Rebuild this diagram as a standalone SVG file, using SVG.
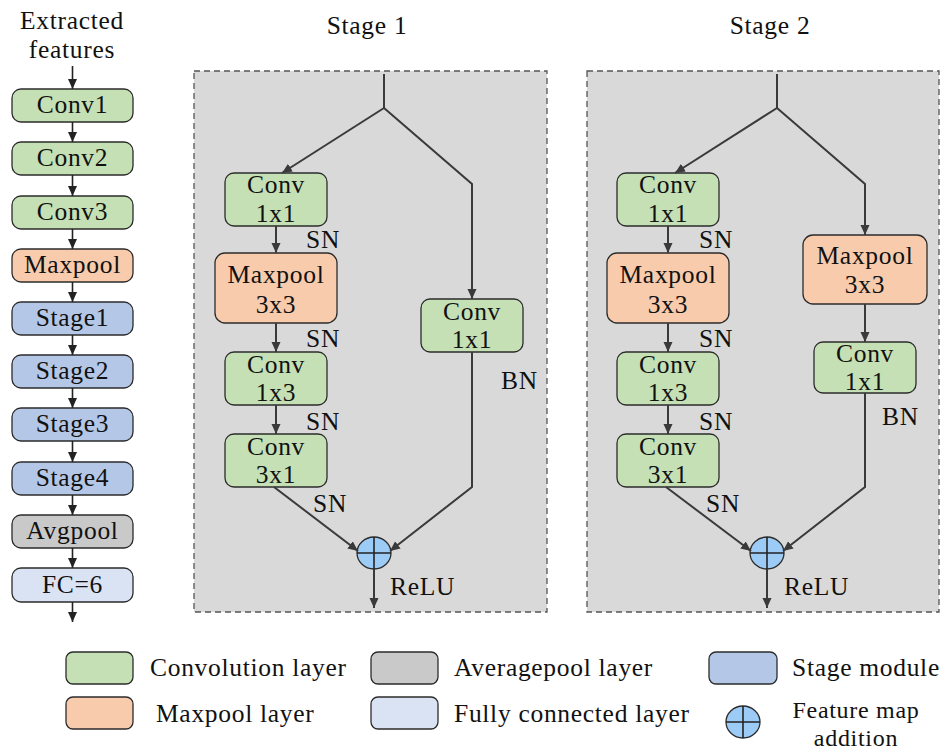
<svg xmlns="http://www.w3.org/2000/svg" width="942" height="751" viewBox="0 0 942 751">
<defs>
<marker id="ah" markerUnits="userSpaceOnUse" markerWidth="10" markerHeight="10" refX="10" refY="5" orient="auto" viewBox="0 0 10 10">
<path d="M0,0.5 L10,5 L0,9.5 z" fill="#222"/>
</marker>
<marker id="ah2" markerUnits="userSpaceOnUse" markerWidth="10" markerHeight="10" refX="10" refY="5" orient="auto" viewBox="0 0 10 10">
<path d="M0,0.5 L10,5 L0,9.5 z" fill="#3a3a3a"/>
</marker>
</defs>
<style>
text{font-family:"Liberation Serif","Times New Roman",serif;font-size:25.5px;letter-spacing:0.7px;fill:#111;}
.c{text-anchor:middle;}
.sm{font-size:24px;}
.box{stroke:#2b2b2b;stroke-width:1.3;}
.conv{fill:#C5E0B4;}
.pool{fill:#F8CBAD;}
.stage{fill:#B4C7E7;}
.avg{fill:#C9C9C9;}
.fc{fill:#DAE3F3;}
.panel{fill:#D9D9D9;stroke:#555;stroke-width:1.3;stroke-dasharray:6,4;}
.lk{stroke:#222;stroke-width:1.6;fill:none;marker-end:url(#ah);}
.ln{stroke:#3a3a3a;stroke-width:2;fill:none;}
.la{stroke:#3a3a3a;stroke-width:2;fill:none;marker-end:url(#ah2);}
.add{fill:#9CCBF5;stroke:#2b2b2b;stroke-width:1.3;}
.plus{stroke:#222;stroke-width:1.6;}
</style>
<rect width="942" height="751" fill="#fff"/>

<!-- Left column -->
<text class="c" x="72" y="29">Extracted</text>
<text class="c" x="72" y="58">features</text>
<g id="conv1"><rect class="box conv" x="12" y="89" width="121" height="33" rx="9"/><text class="c" x="72.5" y="113">Conv1</text></g>
<g id="conv2"><rect class="box conv" x="12" y="142" width="121" height="33" rx="9"/><text class="c" x="72.5" y="166">Conv2</text></g>
<g id="conv3"><rect class="box conv" x="12" y="196" width="121" height="33" rx="9"/><text class="c" x="72.5" y="220">Conv3</text></g>
<g id="maxpool"><rect class="box pool" x="12" y="249" width="121" height="33" rx="9"/><text class="c" x="72.5" y="273">Maxpool</text></g>
<g id="stage1"><rect class="box stage" x="12" y="302" width="121" height="33" rx="9"/><text class="c" x="72.5" y="326">Stage1</text></g>
<g id="stage2"><rect class="box stage" x="12" y="355" width="121" height="33" rx="9"/><text class="c" x="72.5" y="379">Stage2</text></g>
<g id="stage3"><rect class="box stage" x="12" y="408" width="121" height="33" rx="9"/><text class="c" x="72.5" y="432">Stage3</text></g>
<g id="stage4"><rect class="box stage" x="12" y="462" width="121" height="33" rx="9"/><text class="c" x="72.5" y="486">Stage4</text></g>
<g id="avgpool"><rect class="box avg" x="12" y="515" width="121" height="33" rx="9"/><text class="c" x="72.5" y="539">Avgpool</text></g>
<g id="fc"><rect class="box fc" x="12" y="568" width="121" height="34" rx="9"/><text class="c" x="72.5" y="593">FC=6</text></g>

<!-- Panels -->
<g id="panel1"><rect class="panel" x="194" y="71" width="353" height="541"/><text class="c" x="367" y="34">Stage 1</text></g>
<g id="panel2"><rect class="panel" x="587" y="71" width="352" height="541"/><text class="c" x="770" y="34">Stage 2</text></g>

<!-- Stage 1 nodes -->
<g id="s1conv11"><rect class="box conv" x="225" y="173" width="102" height="53" rx="9"/><text class="c" x="276" y="193">Conv</text><text class="c" x="276" y="222">1x1</text></g>
<g id="s1max"><rect class="box pool" x="215" y="253" width="122" height="70" rx="10"/><text class="c" x="276" y="283">Maxpool</text><text class="c" x="276" y="313">3x3</text></g>
<g id="s1conv13"><rect class="box conv" x="225" y="352" width="102" height="53" rx="9"/><text class="c" x="276" y="373">Conv</text><text class="c" x="276" y="401">1x3</text></g>
<g id="s1conv31"><rect class="box conv" x="225" y="434" width="102" height="53" rx="9"/><text class="c" x="276" y="455">Conv</text><text class="c" x="276" y="483">3x1</text></g>
<g id="s1convr"><rect class="box conv" x="421" y="299" width="102" height="53" rx="9"/><text class="c" x="472" y="320">Conv</text><text class="c" x="472" y="348">1x1</text></g>
<g id="s1add"><ellipse class="add" cx="374" cy="553" rx="17" ry="16"/><line class="plus" x1="357" y1="553" x2="391" y2="553"/><line class="plus" x1="374" y1="537" x2="374" y2="569"/></g>

<!-- Stage 2 nodes -->
<g id="s2conv11"><rect class="box conv" x="617" y="173" width="102" height="53" rx="9"/><text class="c" x="668" y="193">Conv</text><text class="c" x="668" y="222">1x1</text></g>
<g id="s2max"><rect class="box pool" x="607" y="253" width="122" height="70" rx="10"/><text class="c" x="668" y="283">Maxpool</text><text class="c" x="668" y="313">3x3</text></g>
<g id="s2conv13"><rect class="box conv" x="617" y="352" width="102" height="53" rx="9"/><text class="c" x="668" y="373">Conv</text><text class="c" x="668" y="401">1x3</text></g>
<g id="s2conv31"><rect class="box conv" x="617" y="434" width="102" height="53" rx="9"/><text class="c" x="668" y="455">Conv</text><text class="c" x="668" y="483">3x1</text></g>
<g id="s2maxr"><rect class="box pool" x="803" y="235" width="124" height="69" rx="10"/><text class="c" x="865" y="264">Maxpool</text><text class="c" x="865" y="293">3x3</text></g>
<g id="s2convr"><rect class="box conv" x="814" y="342" width="102" height="51" rx="9"/><text class="c" x="865" y="362">Conv</text><text class="c" x="865" y="390">1x1</text></g>
<g id="s2add"><ellipse class="add" cx="767" cy="553" rx="17" ry="16"/><line class="plus" x1="750" y1="553" x2="784" y2="553"/><line class="plus" x1="767" y1="537" x2="767" y2="569"/></g>

<!-- Connectors -->
<g id="connectors">
<line class="lk" x1="72.5" y1="66" x2="72.5" y2="89"/>
<line class="lk" x1="72.5" y1="122" x2="72.5" y2="142"/>
<line class="lk" x1="72.5" y1="175" x2="72.5" y2="196"/>
<line class="lk" x1="72.5" y1="229" x2="72.5" y2="249"/>
<line class="lk" x1="72.5" y1="282" x2="72.5" y2="302"/>
<line class="lk" x1="72.5" y1="335" x2="72.5" y2="355"/>
<line class="lk" x1="72.5" y1="388" x2="72.5" y2="408"/>
<line class="lk" x1="72.5" y1="441" x2="72.5" y2="462"/>
<line class="lk" x1="72.5" y1="495" x2="72.5" y2="515"/>
<line class="lk" x1="72.5" y1="548" x2="72.5" y2="568"/>
<line class="lk" x1="72.5" y1="602" x2="72.5" y2="622"/>

<!-- Stage 1 -->
<polyline class="ln" points="384,74 384,108"/>
<line class="la" x1="384" y1="108" x2="282" y2="173"/>
<polyline class="la" points="384,108 472,184 472,299"/>
<line class="la" x1="276" y1="226" x2="276" y2="253"/>
<line class="la" x1="276" y1="323" x2="276" y2="352"/>
<line class="la" x1="276" y1="405" x2="276" y2="434"/>
<line class="la" x1="274" y1="487" x2="358" y2="551"/>
<polyline class="la" points="472,352 472,487 390,551"/>
<line class="la" x1="374" y1="569" x2="374" y2="608"/>

<!-- Stage 2 -->
<polyline class="ln" points="777,74 777,108"/>
<line class="la" x1="777" y1="108" x2="675" y2="173"/>
<polyline class="la" points="777,108 865,184 865,235"/>
<line class="la" x1="865" y1="304" x2="865" y2="342"/>
<line class="la" x1="668" y1="226" x2="668" y2="253"/>
<line class="la" x1="668" y1="323" x2="668" y2="352"/>
<line class="la" x1="668" y1="405" x2="668" y2="434"/>
<line class="la" x1="666" y1="487" x2="751" y2="551"/>
<polyline class="la" points="865,393 865,487 783,551"/>
<line class="la" x1="767" y1="569" x2="767" y2="608"/>
</g>

<!-- Labels -->
<text x="306" y="248">SN</text>
<text x="306" y="347">SN</text>
<text x="306" y="430">SN</text>
<text x="313" y="512">SN</text>
<text x="501" y="389">BN</text>
<text x="390" y="595">ReLU</text>

<text x="699" y="248">SN</text>
<text x="699" y="347">SN</text>
<text x="699" y="430">SN</text>
<text x="706" y="512">SN</text>
<text x="882" y="425">BN</text>
<text x="784" y="595">ReLU</text>

<!-- Legend -->
<g id="legend">
<rect class="box conv" x="66" y="652" width="67" height="32" rx="7"/>
<text x="150" y="676">Convolution layer</text>
<rect class="box avg" x="371" y="652" width="67" height="32" rx="7"/>
<text x="454" y="676">Averagepool layer</text>
<rect class="box stage" x="709" y="652" width="68" height="32" rx="7"/>
<text x="792" y="676">Stage module</text>
<rect class="box pool" x="66" y="697" width="67" height="32" rx="7"/>
<text x="156" y="722">Maxpool layer</text>
<rect class="box fc" x="371" y="697" width="67" height="32" rx="7"/>
<text x="454" y="722">Fully connected layer</text>
<ellipse class="add" cx="743" cy="722" rx="17" ry="16"/>
<line class="plus" x1="726" y1="722" x2="760" y2="722"/>
<line class="plus" x1="743" y1="706" x2="743" y2="738"/>
<text class="c sm" x="856" y="718">Feature map</text>
<text class="c sm" x="856" y="746">addition</text>
</g>
</svg>
